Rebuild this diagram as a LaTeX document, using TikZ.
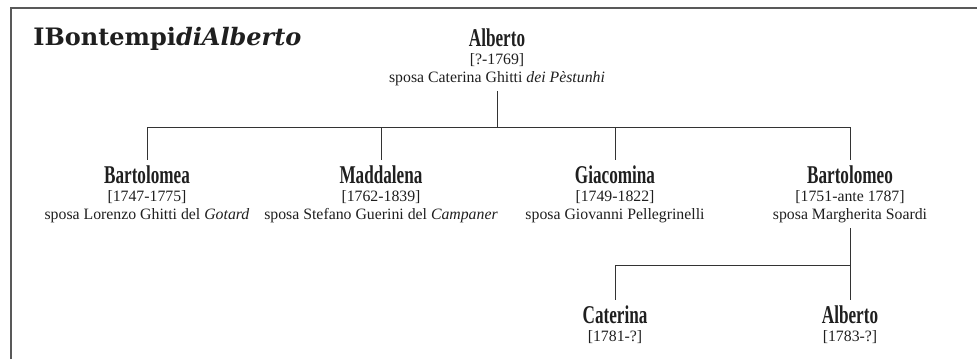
\documentclass[tikz,border=0pt]{standalone}
\usepackage{fontspec}
\setmainfont{Liberation Serif}
\newfontfamily\namefont{Liberation Serif}[FakeStretch=0.67]
\newfontfamily\titlefont{DejaVu Serif}
\usetikzlibrary{positioning}

\newcommand{\pname}[1]{{\namefont\bfseries\fontsize{12.8}{12.8}\selectfont #1}}

\begin{document}
\begin{tikzpicture}[
  x=0.5pt, y=-0.5pt,
  person/.style={align=center, anchor=base, inner sep=0pt, outer ysep=3pt, text=black!88, font=\fontsize{7.9}{8.8}\selectfont},
  heading/.style={anchor=base west, inner sep=0pt, text=black!88, font=\titlefont\bfseries\fontsize{12}{12}\selectfont},
  link/.style ={draw=black!80, line width=0.5pt},
  frame/.style={draw=black!65, line width=1pt},
]
\useasboundingbox (0,0) rectangle (977,359);

% ---------- frame and title ----------
\draw[frame] (11,359) -- (11,8) -- (977,8);
\node[heading] (title) at (33,45) {IBontempi\textit{diAlberto}};

% ---------- Alberto and his wife ----------
\node[person] (alberto) at (497,82) {\pname{Alberto}\\{}[?-1769]\\sposa Caterina Ghitti \textit{dei Pèstunhi}};

% ---------- children ----------
\node[person] (bartolomea) at (147,219) {\pname{Bartolomea}\\{}[1747-1775]\\sposa Lorenzo Ghitti del \textit{Gotard}};
\node[person] (maddalena)  at (381,219) {\pname{Maddalena}\\{}[1762-1839]\\sposa Stefano Guerini del \textit{Campaner}};
\node[person] (giacomina)  at (615,219) {\pname{Giacomina}\\{}[1749-1822]\\sposa Giovanni Pellegrinelli};
\node[person] (bartolomeo) at (850,219) {\pname{Bartolomeo}\\{}[1751-ante 1787]\\sposa Margherita Soardi};

% ---------- grandchildren ----------
\node[person] (caterina) at (615,341) {\pname{Caterina}\\{}[1781-?]};
\node[person] (albertoj) at (850,341) {\pname{Alberto}\\{}[1783-?]};

% ---------- links ----------
\coordinate (forkA) at (497,127);
\draw[link] (alberto.south) -- (forkA);
\foreach \c in {bartolomea,maddalena,giacomina,bartolomeo}
  \draw[link] (forkA) -| (\c.north);

\coordinate (forkB) at (850,265);
\draw[link] (bartolomeo.south) -- (forkB);
\foreach \c in {caterina,albertoj}
  \draw[link] (forkB) -| (\c.north);

\end{tikzpicture}
\end{document}
